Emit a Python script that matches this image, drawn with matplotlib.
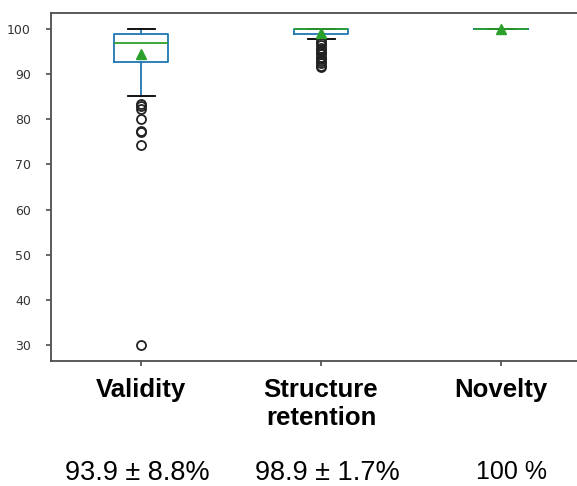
import numpy as np
import matplotlib
matplotlib.use("Agg")
import matplotlib.pyplot as plt

# values
categories = ["Validity", "Structure\nretention", "Novelty"]
q1 = [92.7, 98.9, 100.0]
median = [97.0, 100.0, 100.0]
q3 = [99.0, 100.0, 100.0]
whisker_lo = [85.1, 97.9, 100.0]
whisker_hi = [100.0, 100.0, 100.0]
means = [94.4, 99.1, 100.0]
fliers = [
    [83.4, 82.9, 82.3, 80.0, 77.5, 77.1, 74.2, 30.0],
    [97.4, 96.9, 96.4, 95.9, 95.4, 94.9, 94.4, 93.9, 93.4, 92.9, 92.4, 91.9, 91.6],
    [],
]
summary = ["93.9 \u00b1 8.8%", "98.9 \u00b1 1.7%", "100 %"]

plt.rcParams["savefig.bbox"] = "standard"

W, H = 577, 486
fig = plt.figure(figsize=(W / 100, H / 100), dpi=100)
# axes runs past the right edge of the picture, as in the cropped screenshot
ax = fig.add_axes([51 / W, (H - 361) / H, 540 / W, 348 / H])

stats = []
for i in range(len(categories)):
    stats.append(dict(q1=q1[i], med=median[i], q3=q3[i], whislo=whisker_lo[i],
                      whishi=whisker_hi[i], mean=means[i], fliers=fliers[i],
                      label=categories[i]))

lw = 1.3
ax.bxp(stats, positions=[1, 2, 3], widths=0.3, showmeans=True,
       boxprops=dict(color="#1f77b4", linewidth=lw),
       whiskerprops=dict(color="#1f77b4", linewidth=lw),
       medianprops=dict(color="#2ca02c", linewidth=lw),
       capprops=dict(color="k", linewidth=lw),
       flierprops=dict(marker="o", markersize=6.5, markerfacecolor="none",
                       markeredgecolor="#222222", markeredgewidth=1.3),
       meanprops=dict(marker="^", markersize=7, markerfacecolor="#2ca02c",
                      markeredgecolor="#2ca02c"))

ax.set_xlim(0.5, 3.5)
ax.set_ylim(26.45, 103.55)
ax.set_yticks([30, 40, 50, 60, 70, 80, 90, 100])

for s in ax.spines.values():
    s.set_color("#4d4d4d")
    s.set_linewidth(1.3)
ax.spines["right"].set_visible(False)  # cut off in the reference
ax.tick_params(axis="y", labelsize=9, labelcolor="#333333", color="#4d4d4d",
               width=1.2, pad=11)
ax.tick_params(axis="x", color="#4d4d4d", width=1.2, pad=9)
ax.set_xticklabels(categories, fontsize=18.5, fontweight="bold",
                   family=["Liberation Sans", "DejaVu Sans"])

# summary numbers under each category
xs = [137, 327, 511]
ys = [480, 480, 479]
sizes = [19.5, 19.5, 18]
for x, y, t, fs in zip(xs, ys, summary, sizes):
    fig.text(x / W, (H - y) / H, t, ha="center", va="baseline", fontsize=fs,
             family=["Liberation Sans", "DejaVu Sans"])

fig.savefig("out.png", dpi=100)
